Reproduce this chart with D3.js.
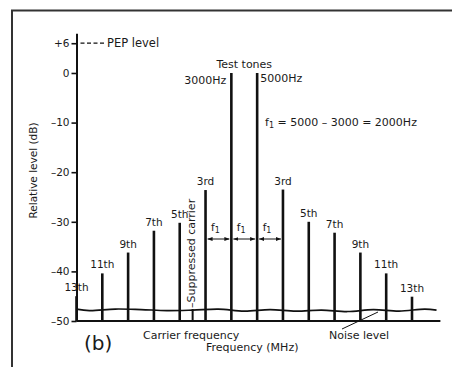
<!DOCTYPE html>
<html lang="en">
<head>
<meta charset="UTF-8">
<title>Two-tone test spectrum</title>
<script src="https://d3js.org/d3.v7.min.js"></script>
<style>
  body { margin: 0; background: #fff; }
  svg text { font-family: "DejaVu Sans", sans-serif; fill: #1a1a1a; }
</style>
</head>
<body>
<svg id="chart" width="452" height="367"></svg>
<script>
// spectral lines, offsets in units of f1 from the centre of the two tones
const offsets = [-6.5, -5.5, -4.5, -3.5, -2.5, -1.5, -0.5, 0.5, 1.5, 2.5, 3.5, 4.5, 5.5, 6.5];
const levels = [-45, -40.4, -36.2, -31.8, -30.2, -23.6, 0, 0, -23.5, -30, -32.2, -36.2, -40.4, -45.1];
const labels = ["13th", "11th", "9th", "7th", "5th", "3rd", "", "", "3rd", "5th", "7th", "9th", "11th", "13th"];

// suppressed carrier
const carrierOffset = -2;
const carrierLevel = -47.6;

// noise floor
const noiseX = [-6.5, -6, -5, -4, -3, -2, -1, 0, 1, 2, 3, 4, 5, 6, 7, 7.45];
const noiseY = [-47.6, -47.9, -47.6, -47.7, -47.9, -47.8, -47.6, -48.0, -47.7, -48.0, -47.8, -48.1, -47.7, -48.0, -47.6, -47.8];

const yTicks = [6, 0, -10, -20, -30, -40, -50];
const yTickLabels = ["+6", "0", "–10", "–20", "–30", "–40", "–50"];

const svg = d3.select("#chart");

const x = d3.scaleLinear().domain([-6.5, 6.5]).range([76.5, 412]);
const y = d3.scaleLinear().domain([-50, 8]).range([321, 33.3]);

// frame
svg.append("path")
    .attr("d", "M12,367 V10.5 H452")
    .attr("fill", "none")
    .attr("stroke", "#333")
    .attr("stroke-width", 2);

// y axis
const yAxis = svg.append("g")
    .attr("transform", `translate(${x(-6.5)},0)`)
    .call(d3.axisLeft(y).tickValues(yTicks).tickSize(5).tickSizeOuter(0).tickPadding(2)
        .tickFormat((d, i) => yTickLabels[i]));
yAxis.select(".domain").attr("stroke", "#111").attr("stroke-width", 2);
yAxis.selectAll(".tick line").attr("stroke", "#111").attr("stroke-width", 1.6);
yAxis.selectAll(".tick text")
    .style("font-size", "10.5px")
    .style("font-family", "DejaVu Sans, sans-serif")
    .attr("fill", "#1a1a1a");

svg.append("text")
    .attr("transform", `translate(37,${(118 + 223) / 2}) rotate(-90)`)
    .attr("text-anchor", "middle")
    .style("font-size", "10.5px")
    .text("Relative level (dB)");

// baseline at -50
svg.append("line")
    .attr("x1", x(-6.5)).attr("x2", x(7.6))
    .attr("y1", y(-50)).attr("y2", y(-50))
    .attr("stroke", "#111").attr("stroke-width", 2.2);

// noise floor
svg.append("path")
    .datum(noiseX.map((d, i) => [d, noiseY[i]]))
    .attr("d", d3.line().x(d => x(d[0])).y(d => y(d[1])).curve(d3.curveCatmullRom))
    .attr("fill", "none")
    .attr("stroke", "#111")
    .attr("stroke-width", 1.6);

// spectral lines
svg.selectAll(".spec")
    .data(offsets)
    .enter().append("line")
    .attr("class", "spec")
    .attr("x1", d => x(d)).attr("x2", d => x(d))
    .attr("y1", y(-50))
    .attr("y2", (d, i) => y(levels[i]))
    .attr("stroke", "#111")
    .attr("stroke-width", 2.6);

svg.selectAll(".spec-label")
    .data(offsets)
    .enter().append("text")
    .attr("class", "spec-label")
    .attr("x", d => x(d))
    .attr("y", (d, i) => y(levels[i]) - 5)
    .attr("text-anchor", "middle")
    .style("font-size", "10.5px")
    .text((d, i) => labels[i]);

// suppressed carrier
svg.append("line")
    .attr("x1", x(carrierOffset)).attr("x2", x(carrierOffset))
    .attr("y1", y(-50)).attr("y2", y(carrierLevel))
    .attr("stroke", "#111").attr("stroke-width", 2);
svg.append("text")
    .attr("transform", `translate(${x(carrierOffset) + 2},308) rotate(-90)`)
    .attr("text-anchor", "start")
    .style("font-size", "11px")
    .text("–Suppressed carrier");

// test tone labels
svg.append("text")
    .attr("x", x(0)).attr("y", 68)
    .attr("text-anchor", "middle")
    .style("font-size", "11px")
    .text("Test tones");
svg.append("text")
    .attr("x", x(-0.5) - 5).attr("y", 84)
    .attr("text-anchor", "end")
    .style("font-size", "11px")
    .text("3000Hz");
svg.append("text")
    .attr("x", x(0.5) + 3).attr("y", 82)
    .attr("text-anchor", "start")
    .style("font-size", "11px")
    .text("5000Hz");

const f1Text = svg.append("text")
    .attr("x", 265).attr("y", 126)
    .style("font-size", "11px");
f1Text.append("tspan").text("f");
f1Text.append("tspan").attr("dy", 2).style("font-size", "8px").text("1");
f1Text.append("tspan").attr("dy", -2).text(" = 5000 – 3000 = 2000Hz");

// PEP level
svg.append("line")
    .attr("x1", x(-6.5) + 4).attr("x2", x(-6.5) + 29)
    .attr("y1", y(6)).attr("y2", y(6))
    .attr("stroke", "#111").attr("stroke-width", 1.2)
    .attr("stroke-dasharray", "4,2.5");
svg.append("text")
    .attr("x", 107).attr("y", y(6) + 4)
    .style("font-size", "11.5px")
    .text("PEP level");

// f1 spacing arrows
const defs = svg.append("defs");
defs.append("marker")
    .attr("id", "arr")
    .attr("viewBox", "0 0 10 10")
    .attr("refX", 10).attr("refY", 5)
    .attr("markerWidth", 5).attr("markerHeight", 5)
    .attr("orient", "auto-start-reverse")
    .append("path").attr("d", "M0,1 L10,5 L0,9 z").attr("fill", "#111");

const spans = [[-1.5, -0.5], [-0.5, 0.5], [0.5, 1.5]];
spans.forEach(s => {
    svg.append("line")
        .attr("x1", x(s[0]) + 2).attr("x2", x(s[1]) - 2)
        .attr("y1", 239).attr("y2", 239)
        .attr("stroke", "#111").attr("stroke-width", 1)
        .attr("marker-start", "url(#arr)")
        .attr("marker-end", "url(#arr)");
    const t = svg.append("text")
        .attr("x", (x(s[0]) + x(s[1])) / 2 - 3).attr("y", 231)
        .attr("text-anchor", "middle")
        .style("font-size", "10.5px");
    t.append("tspan").text("f");
    t.append("tspan").attr("dy", 2).style("font-size", "8px").text("1");
});

// bottom annotations
svg.append("text")
    .attr("x", 84).attr("y", 350)
    .style("font-size", "20px")
    .text("(b)");
svg.append("text")
    .attr("x", 143).attr("y", 339)
    .style("font-size", "11px")
    .text("Carrier frequency");
svg.append("text")
    .attr("x", 206).attr("y", 351)
    .style("font-size", "11px")
    .text("Frequency (MHz)");
svg.append("text")
    .attr("x", 329).attr("y", 339)
    .style("font-size", "11px")
    .text("Noise level");
svg.append("line")
    .attr("x1", 342).attr("y1", 329)
    .attr("x2", 378).attr("y2", 312)
    .attr("stroke", "#111").attr("stroke-width", 1);
</script>
</body>
</html>
